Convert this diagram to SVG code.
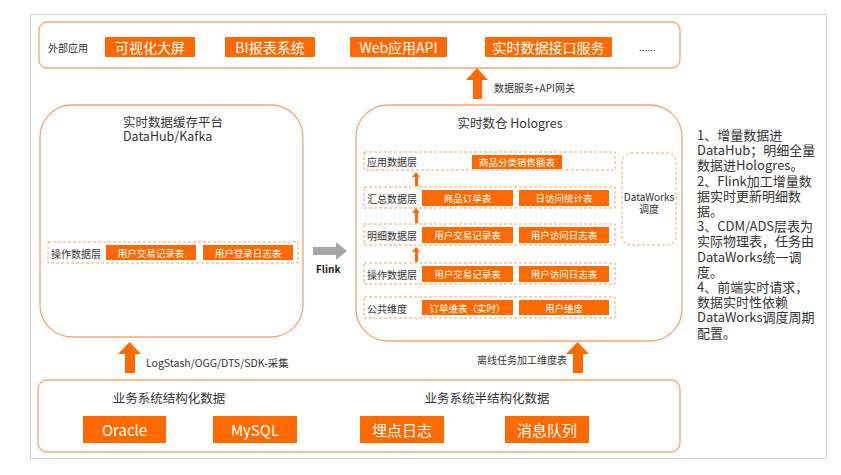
<svg xmlns="http://www.w3.org/2000/svg" width="841" height="475" viewBox="0 0 841 475">
<defs>
<style>
text{font-family:"Noto Sans CJK SC","Noto Sans",sans-serif;}
.frame{fill:none;stroke:#F5A66E;stroke-width:1.3;}
.dash{fill:none;stroke:#F5A66E;stroke-width:1;stroke-dasharray:3 2;}
.btn{fill:#FF6A00;}
.bt{fill:#fff;text-anchor:middle;dominant-baseline:central;}
.lbl{fill:#333;dominant-baseline:central;}
.arr{fill:#FF6A00;}
.s9{font-size:9.5px;}
.s10{font-size:10px;}
.s12{font-size:12.5px;}
.s14{font-size:14px;}
.s15{font-size:15px;}
</style>
</defs>
<rect x="0" y="0" width="841" height="475" fill="#fff"/>
<rect x="30.5" y="14.5" width="796" height="444" fill="none" stroke="#CFCFCF" stroke-width="1"/>

<g id="external-apps">
<rect class="frame" x="39" y="22" width="641" height="46" rx="8"/>
<text class="lbl s10" x="48" y="47">外部应用</text>
<rect class="btn" x="105" y="37" width="90" height="20" rx="1"/>
<text class="bt s14" x="150" y="47">可视化大屏</text>
<rect class="btn" x="225" y="37" width="90" height="20" rx="1"/>
<text class="bt s14" x="270" y="47">BI报表系统</text>
<rect class="btn" x="350" y="37" width="97" height="20" rx="1"/>
<text class="bt s14" x="398.5" y="47">Web应用API</text>
<rect class="btn" x="485" y="37" width="127" height="20" rx="1"/>
<text class="bt s14" x="548.5" y="47">实时数据接口服务</text>
<text class="lbl s10" x="639" y="46">......</text>
</g>

<g id="cache-platform">
<rect class="frame" x="40" y="105" width="263" height="232" rx="32"/>
<text class="s12" fill="#333"><tspan x="123" y="126.5">实时数据缓存平台</tspan><tspan x="123" y="141">DataHub/Kafka</tspan></text>
<rect class="dash" x="48" y="242" width="250" height="21"/>
<text class="lbl s10" x="51" y="253">操作数据层</text>
<rect class="btn" x="106" y="245" width="90" height="15"/>
<text class="bt s9" x="151" y="253">用户交易记录表</text>
<rect class="btn" x="203" y="245" width="90" height="15"/>
<text class="bt s9" x="248" y="253">用户登录日志表</text>
</g>

<g id="hologres">
<rect class="frame" x="356" y="105" width="326" height="236" rx="32"/>
<text class="s12" x="510" y="122" text-anchor="middle" fill="#333" dominant-baseline="central">实时数仓 Hologres</text>

<rect class="dash" x="364" y="152" width="251" height="18"/>
<text class="lbl s10" x="367" y="161">应用数据层</text>
<rect class="btn" x="472" y="155" width="90" height="14"/>
<text class="bt s9" x="517" y="162">商品分类销售额表</text>

<rect class="dash" x="364" y="187" width="251" height="21"/>
<text class="lbl s10" x="367" y="198">汇总数据层</text>
<rect class="btn" x="422" y="190" width="91" height="16"/>
<text class="bt s9" x="467.5" y="198">商品订单表</text>
<rect class="btn" x="519" y="190" width="90" height="16"/>
<text class="bt s9" x="564" y="198">日访问统计表</text>

<rect class="dash" x="364" y="224" width="251" height="21"/>
<text class="lbl s10" x="367" y="235">明细数据层</text>
<rect class="btn" x="422" y="227" width="91" height="16"/>
<text class="bt s9" x="467.5" y="235">用户交易记录表</text>
<rect class="btn" x="519" y="227" width="90" height="16"/>
<text class="bt s9" x="564" y="235">用户访问日志表</text>

<rect class="dash" x="364" y="263" width="251" height="21"/>
<text class="lbl s10" x="367" y="274">操作数据层</text>
<rect class="btn" x="422" y="266" width="91" height="16"/>
<text class="bt s9" x="467.5" y="274">用户交易记录表</text>
<rect class="btn" x="519" y="266" width="90" height="16"/>
<text class="bt s9" x="564" y="274">用户访问日志表</text>

<rect class="dash" x="364" y="297" width="251" height="21"/>
<text class="lbl s10" x="367" y="308">公共维度</text>
<rect class="btn" x="422" y="300" width="91" height="15"/>
<text class="bt s9" x="467.5" y="307.5">订单维表（实时）</text>
<rect class="btn" x="519" y="300" width="90" height="15"/>
<text class="bt s9" x="564" y="307.5">用户维度</text>
</g>

<g id="dataworks">
<rect class="dash" x="622" y="153" width="54" height="92" rx="9"/>
<text class="s10" text-anchor="middle" fill="#333"><tspan x="649" y="200.5">DataWorks</tspan><tspan x="649" y="212.5">调度</tspan></text>
</g>

<g id="business-systems">
<rect class="frame" x="38" y="380" width="642" height="72" rx="9"/>
<text class="s12" x="169" y="397" text-anchor="middle" fill="#333" dominant-baseline="central">业务系统结构化数据</text>
<text class="s12" x="487" y="397" text-anchor="middle" fill="#333" dominant-baseline="central">业务系统半结构化数据</text>
<rect class="btn" x="83" y="416" width="83" height="27"/>
<text class="bt s15" x="124.5" y="429.5">Oracle</text>
<rect class="btn" x="213" y="416" width="84" height="27"/>
<text class="bt s15" x="255" y="429.5">MySQL</text>
<rect class="btn" x="360" y="416" width="84" height="27"/>
<text class="bt s15" x="402" y="429.5">埋点日志</text>
<rect class="btn" x="505" y="416" width="84" height="27"/>
<text class="bt s15" x="547" y="429.5">消息队列</text>
</g>

<g id="notes">
<text fill="#333" font-size="13"><tspan x="697" y="140">1、增量数据进</tspan><tspan x="697" y="155.2">DataHub；明细全量</tspan><tspan x="697" y="170.4">数据进Hologres。</tspan><tspan x="697" y="185.6">2、Flink加工增量数</tspan><tspan x="697" y="200.8">据实时更新明细数</tspan><tspan x="697" y="216">据。</tspan><tspan x="697" y="231.2">3、CDM/ADS层表为</tspan><tspan x="697" y="246.4">实际物理表，任务由</tspan><tspan x="697" y="261.6">DataWorks统一调</tspan><tspan x="697" y="276.8">度。</tspan><tspan x="697" y="292">4、前端实时请求，</tspan><tspan x="697" y="307.2">数据实时性依赖</tspan><tspan x="697" y="322.4">DataWorks调度周期</tspan><tspan x="697" y="337.6">配置。</tspan></text>
</g>

<g id="connectors">
<polygon class="arr" points="477,68 488,80 482,80 482,99 473,99 473,80 466,80"/>
<text class="lbl s10" x="494" y="87">数据服务+API网关</text>
<polygon fill="#A6A6A6" points="313,247 336,247 336,242 347,251 336,260 336,255 313,255"/>
<text x="316" y="268" font-size="10" font-weight="bold" fill="#222" dominant-baseline="central" font-family="Liberation Sans, Arial, sans-serif">Flink</text>
<polygon class="arr" points="416,172 420,177 418,177 418,186 415,186 415,177 412,177" />
<polygon class="arr" points="416,208 420,213 418,213 418,223 415,223 415,213 412,213" />
<polygon class="arr" points="416,247 420,252 418,252 418,262 415,262 415,252 412,252" />
<polygon class="arr" points="129.5,342 141,354 135,354 135,373 125,373 125,354 118,354"/>
<text class="lbl" font-size="10.5" x="146" y="362">LogStash/OGG/DTS/SDK-采集</text>
<polygon class="arr" points="577.5,342 589,354 583,354 583,373 573,373 573,354 566,354"/>
<text class="s10" x="567" y="359" text-anchor="end" fill="#333" dominant-baseline="central">离线任务加工维度表</text>
</g>
</svg>
